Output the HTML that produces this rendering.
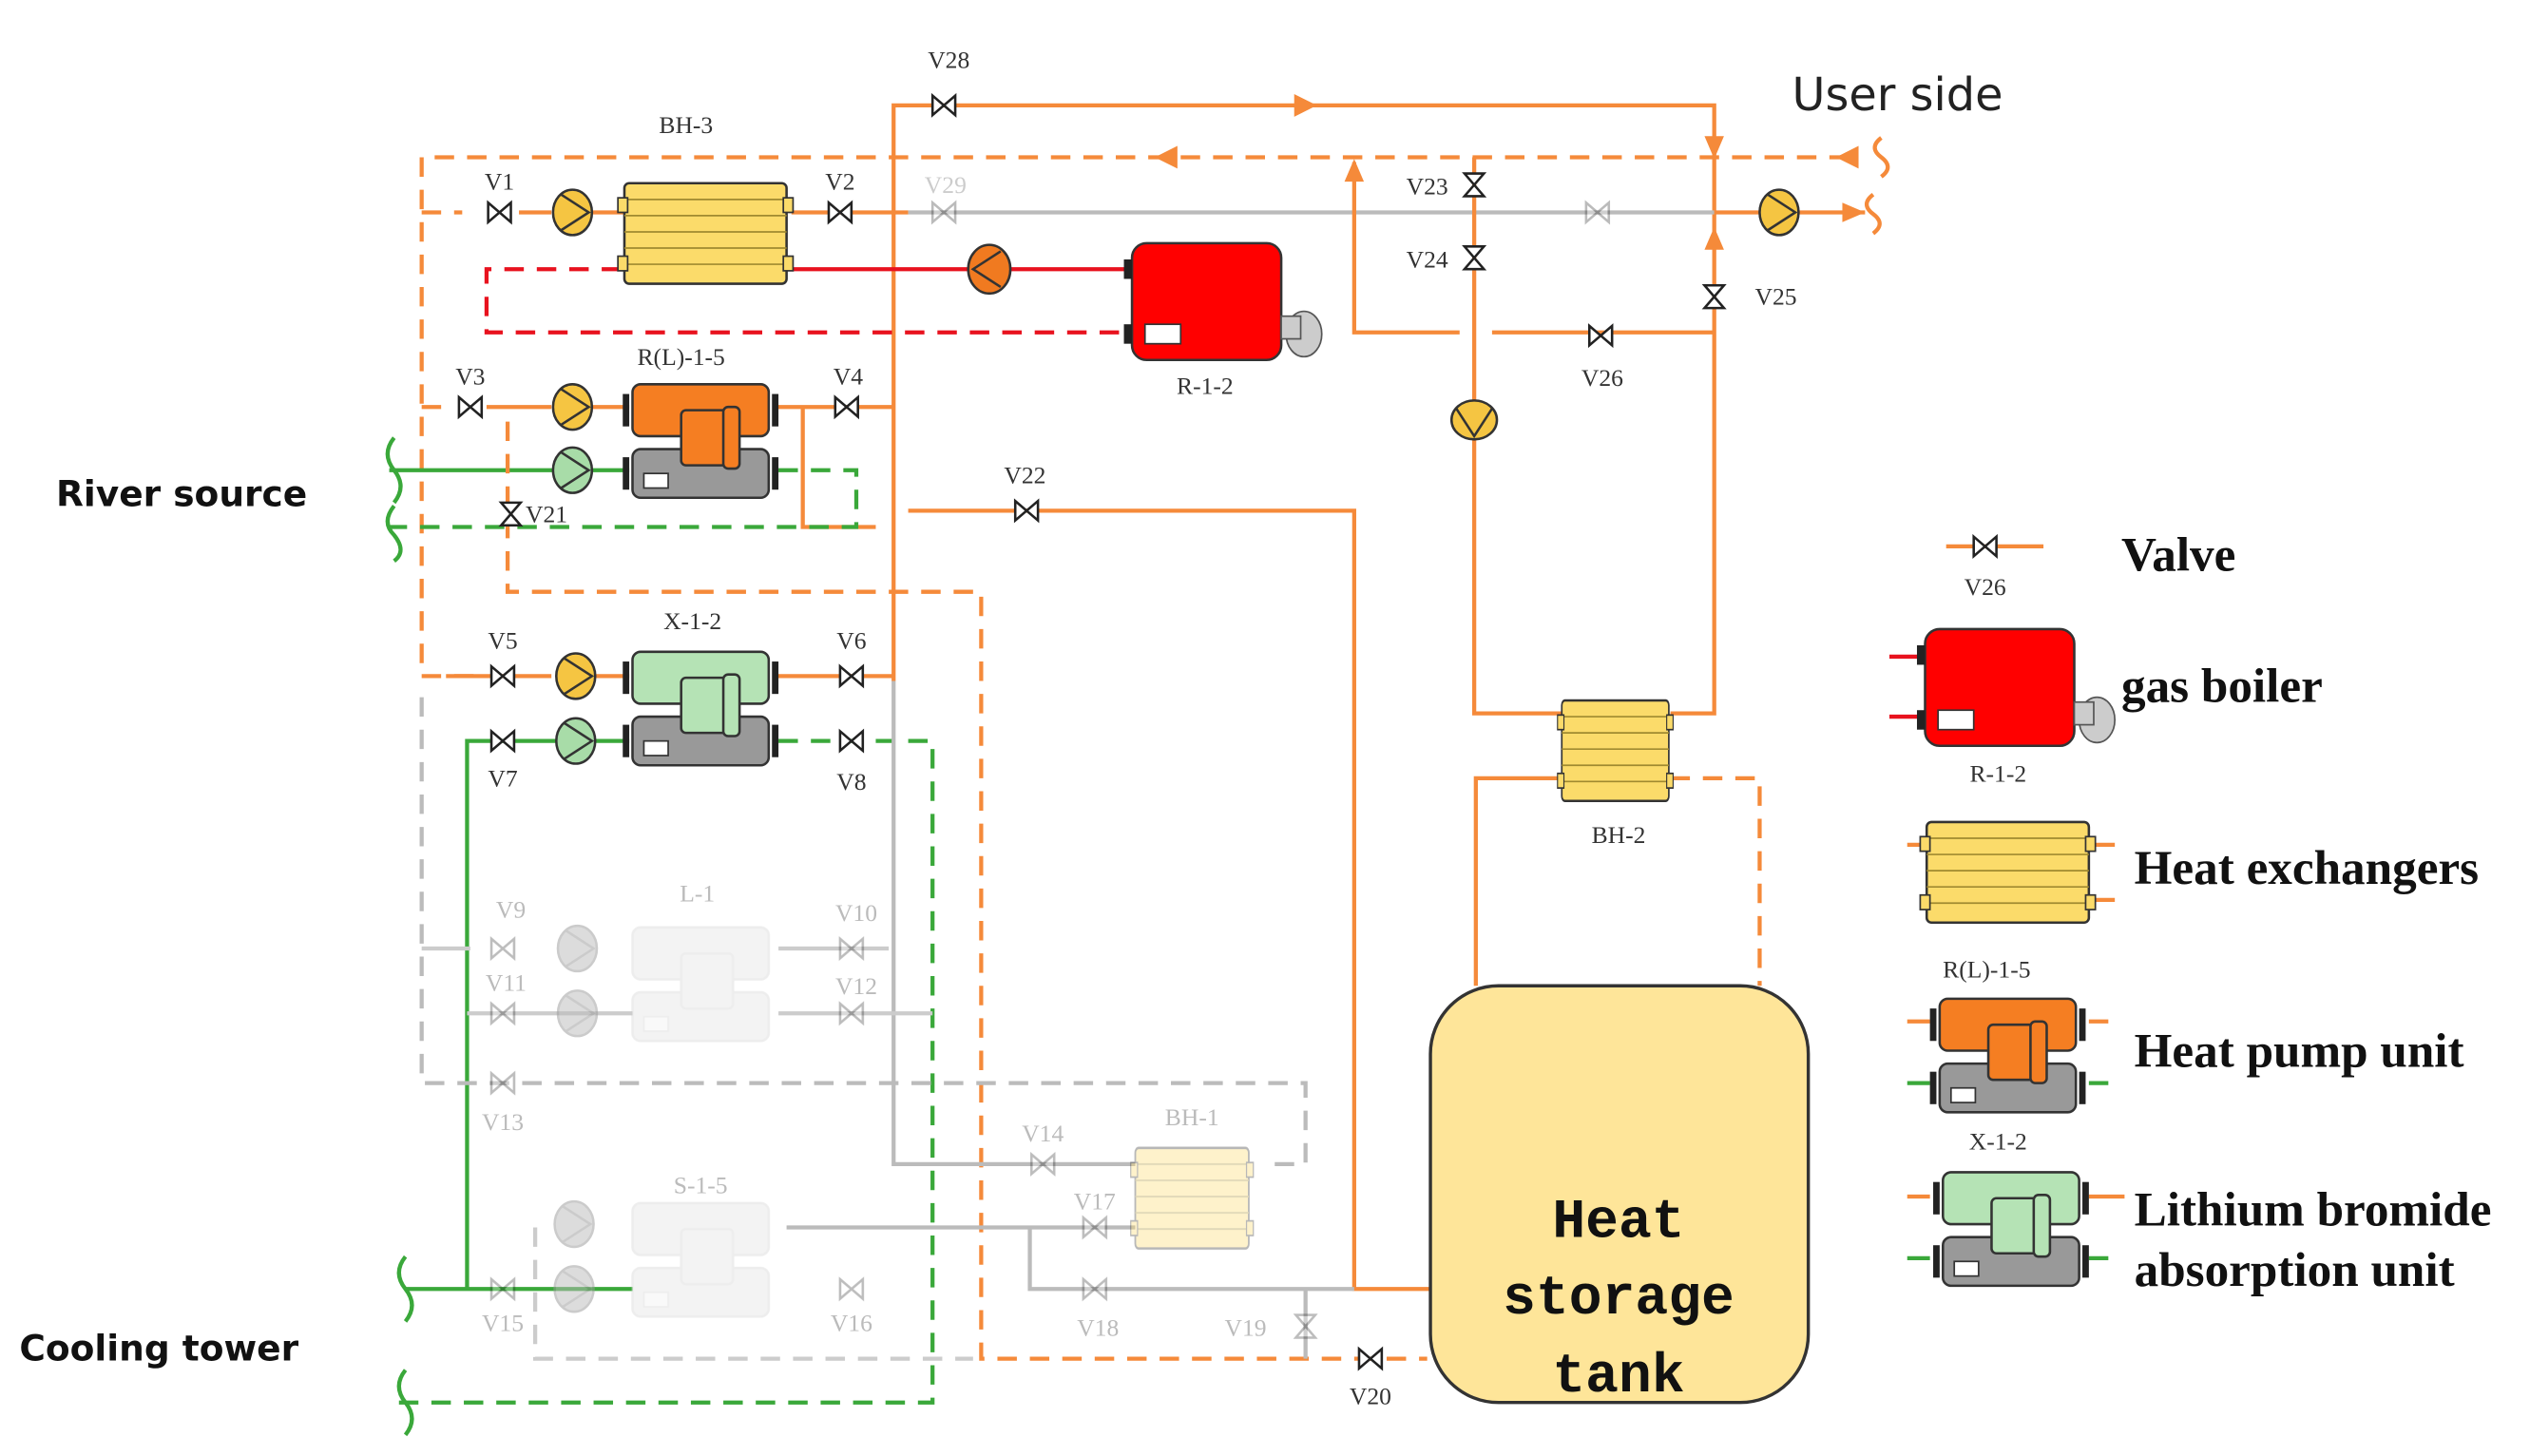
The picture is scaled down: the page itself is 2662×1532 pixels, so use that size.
<!DOCTYPE html>
<html><head><meta charset="utf-8"><style>
html,body{margin:0;padding:0;background:#fff}
svg{display:block}
</style></head><body>
<svg width="2662" height="1532" viewBox="0 0 1560 898" preserveAspectRatio="none" xmlns="http://www.w3.org/2000/svg" font-family="'Liberation Serif', serif">
<defs>
<g id="valve"><path d="M-7,-6 L7,6 L7,-6 L-7,6 Z" fill="#fff" stroke="#222" stroke-width="1.5"/></g>
<g id="pumpY"><ellipse cx="0" cy="0" rx="12" ry="14" fill="#f5c542" stroke="#333" stroke-width="1.5"/><path d="M-7,-11 L10,0 L-7,11" fill="none" stroke="#333" stroke-width="1.5"/></g>
<g id="pumpG"><ellipse cx="0" cy="0" rx="12" ry="14" fill="#a8dca8" stroke="#333" stroke-width="1.5"/><path d="M-7,-11 L10,0 L-7,11" fill="none" stroke="#333" stroke-width="1.5"/></g>
<g id="pumpGray"><ellipse cx="0" cy="0" rx="12" ry="14" fill="#bbb" stroke="#999" stroke-width="1.5"/><path d="M-7,-11 L10,0 L-7,11" fill="none" stroke="#999" stroke-width="1.5"/></g>
<g id="hx">
<rect x="0" y="0" width="100" height="62" rx="3" fill="#fbdb6a" stroke="#333" stroke-width="1.5"/>
<path d="M0,10H100M0,20H100M0,30H100M0,40H100M0,50H100" stroke="#a08a30" stroke-width="1"/>
<rect x="-4" y="9" width="6" height="9" fill="#fbdb6a" stroke="#333"/><rect x="98" y="9" width="6" height="9" fill="#fbdb6a" stroke="#333"/>
<rect x="-4" y="45" width="6" height="9" fill="#fbdb6a" stroke="#333"/><rect x="98" y="45" width="6" height="9" fill="#fbdb6a" stroke="#333"/>
</g>
<g id="unitO">
<rect x="0" y="0" width="84" height="32" rx="5" fill="#f57e22" stroke="#333" stroke-width="1.5"/>
<rect x="0" y="40" width="84" height="30" rx="5" fill="#999" stroke="#333" stroke-width="1.5"/>
<rect x="30" y="16" width="32" height="34" rx="3" fill="#f57e22" stroke="#333" stroke-width="1.5"/>
<rect x="56" y="14" width="10" height="38" rx="3" fill="#f57e22" stroke="#333" stroke-width="1.5"/>
<rect x="7" y="55" width="15" height="9" fill="#fff" stroke="#333"/>
<rect x="-6" y="6" width="4" height="20" fill="#222"/><rect x="86" y="6" width="4" height="20" fill="#222"/>
<rect x="-6" y="45" width="4" height="20" fill="#222"/><rect x="86" y="45" width="4" height="20" fill="#222"/>
</g>
<g id="unitG">
<rect x="0" y="0" width="84" height="32" rx="5" fill="#b5e3b5" stroke="#333" stroke-width="1.5"/>
<rect x="0" y="40" width="84" height="30" rx="5" fill="#999" stroke="#333" stroke-width="1.5"/>
<rect x="30" y="16" width="32" height="34" rx="3" fill="#b5e3b5" stroke="#333" stroke-width="1.5"/>
<rect x="56" y="14" width="10" height="38" rx="3" fill="#b5e3b5" stroke="#333" stroke-width="1.5"/>
<rect x="7" y="55" width="15" height="9" fill="#fff" stroke="#333"/>
<rect x="-6" y="6" width="4" height="20" fill="#222"/><rect x="86" y="6" width="4" height="20" fill="#222"/>
<rect x="-6" y="45" width="4" height="20" fill="#222"/><rect x="86" y="45" width="4" height="20" fill="#222"/>
</g>
<g id="unitF">
<rect x="0" y="0" width="84" height="32" rx="5" fill="#ddd" stroke="#ccc" stroke-width="1.5"/>
<rect x="0" y="40" width="84" height="30" rx="5" fill="#ddd" stroke="#ccc" stroke-width="1.5"/>
<rect x="30" y="16" width="32" height="34" rx="3" fill="#ddd" stroke="#ccc" stroke-width="1.5"/>
<rect x="7" y="55" width="15" height="9" fill="#eee" stroke="#ccc"/>
</g>
<g id="boiler">
<rect x="0" y="0" width="92" height="72" rx="9" fill="#f00" stroke="#333" stroke-width="1.5"/>
<rect x="8" y="50" width="22" height="12" fill="#fff" stroke="#333"/>
<ellipse cx="106" cy="56" rx="11" ry="14" fill="#ccc" stroke="#555"/>
<rect x="92" y="45" width="12" height="14" fill="#ccc" stroke="#555"/>
<rect x="-5" y="10" width="5" height="12" fill="#222"/><rect x="-5" y="50" width="5" height="12" fill="#222"/>
</g>
</defs>

<g fill="none" stroke-width="2.5">
<!-- top solid orange -->
<path d="M551,420 V65 H1057 V440 H1030" stroke="#f58a3a"/>
<!-- dashed orange top -->
<path d="M1140,97 H260 V417 H300" stroke="#f58a3a" stroke-dasharray="12,8"/>
<path d="M260,131 H285 M260,251 H278" stroke="#f58a3a" stroke-dasharray="12,8"/>
<!-- row 131 -->
<path d="M320,131 H340 M365,131 H385 M488,131 H560" stroke="#f58a3a"/>
<path d="M560,131 H1057" stroke="#bbb"/>
<path d="M1057,131 H1150" stroke="#f58a3a"/>
<!-- red -->
<path d="M488,166 H697" stroke="#e8121e"/>
<path d="M383,166 H300 V205 H697" stroke="#e8121e" stroke-dasharray="12,8"/>
<!-- right loop -->
<path d="M835,100 V205 H900 M920,205 H1057" stroke="#f58a3a"/>
<path d="M909,97 V440 H963" stroke="#f58a3a"/>
<path d="M963,480 H910 V608" stroke="#f58a3a"/>
<path d="M1030,480 H1085 V608" stroke="#f58a3a" stroke-dasharray="12,8"/>
<!-- row 251 -->
<path d="M300,251 H340 M365,251 H388 M478,251 H551" stroke="#f58a3a"/>
<path d="M495,251 V325 H540 M560,315 H835 V795 H882" stroke="#f58a3a"/>
<!-- green river -->
<path d="M240,290 H388" stroke="#3aa83a"/>
<path d="M480,290 H528 V325 H240" stroke="#3aa83a" stroke-dasharray="12,8"/>
<!-- orange dashed from V21 -->
<path d="M313,260 V365 H605 V838 H880" stroke="#f58a3a" stroke-dasharray="12,8"/>
<!-- X-1-2 rows -->
<path d="M275,417 H340 M365,417 H388 M478,417 H551" stroke="#f58a3a"/>
<path d="M288,795 V457 H388" stroke="#3aa83a"/>
<path d="M480,457 H575 V865 H245" stroke="#3aa83a" stroke-dasharray="12,8"/>
<!-- grey lines -->
<path d="M551,420 V718 H700" stroke="#bbb"/>
<path d="M260,430 V668 H805 V718 H780" stroke="#bbb" stroke-dasharray="12,8"/>
<path d="M260,585 H290 M288,625 H390 M480,585 H548 M480,625 H575" stroke="#ccc"/>
<path d="M485,757 H700 M635,757 V795 H835 M805,795 V838" stroke="#bbb"/>
<path d="M330,757 V838 H600" stroke="#ccc" stroke-dasharray="12,8"/>
<path d="M250,795 H390" stroke="#3aa83a"/>
<!-- squiggles -->
<path d="M1160,85 q-8,6 0,12 q8,6 0,12" stroke="#f58a3a"/>
<path d="M1155,120 q-8,6 0,12 q8,6 0,12" stroke="#f58a3a"/>
<path d="M243,270 q-8,10 0,20 q8,10 0,20" stroke="#3aa83a"/>
<path d="M243,312 q-8,10 0,18 q8,10 0,16" stroke="#3aa83a"/>
<path d="M250,775 q-8,10 0,20 q8,10 0,20" stroke="#3aa83a"/>
<path d="M250,845 q-8,10 0,20 q8,10 0,20" stroke="#3aa83a"/>
<!-- legend lines -->
<path d="M1200,337 H1260" stroke="#f58a3a"/>
</g>
<!-- arrows -->
<g fill="#f58a3a">
<path d="M812,65 l-14,-7 v14z"/><path d="M712,97 l14,-7 v14z"/><path d="M1132,97 l14,-7 v14z"/>
<path d="M835,98 l-6,14 h12z"/><path d="M1057,140 l-6,14 h12z"/><path d="M1057,98 l-6,-14 h12z" transform="translate(0,0)"/>
<path d="M1150,131 l-14,-6 v12z"/>
</g>

<!-- components -->
<use href="#hx" x="385" y="113"/>
<use href="#boiler" x="698" y="150"/>
<use href="#unitO" x="390" y="237"/>
<use href="#unitG" x="390" y="402"/>
<g opacity="0.35"><use href="#unitF" x="390" y="572"/><use href="#unitF" x="390" y="742"/>
<g transform="translate(700,708) scale(0.7,1)"><use href="#hx"/></g></g>
<use href="#hx" x="963" y="432" transform="translate(963,432) scale(0.66,1) translate(-963,-432)"/>
<use href="#pumpY" x="353" y="131"/>
<use href="#pumpY" x="353" y="251"/>
<use href="#pumpG" x="353" y="290"/>
<use href="#pumpY" x="355" y="417"/>
<use href="#pumpG" x="355" y="457"/>
<use href="#pumpGray" x="356" y="585" opacity="0.5"/>
<use href="#pumpGray" x="356" y="625" opacity="0.5"/>
<use href="#pumpGray" x="354" y="755" opacity="0.5"/>
<use href="#pumpGray" x="354" y="795" opacity="0.5"/>
<use href="#pumpY" x="1097" y="131"/>
<g transform="translate(610,166) rotate(180)"><ellipse rx="13" ry="15" fill="#f07a20" stroke="#333" stroke-width="1.5"/><path d="M-7,-11 L10,0 L-7,11" fill="none" stroke="#333" stroke-width="1.5"/></g>
<g transform="translate(909,259) rotate(90)"><use href="#pumpY"/></g>

<!-- valves -->
<use href="#valve" x="582" y="65"/>
<use href="#valve" x="308" y="131"/><use href="#valve" x="518" y="131"/>
<use href="#valve" x="582" y="131" opacity="0.3"/><use href="#valve" x="985" y="131" opacity="0.3"/>
<use href="#valve" x="290" y="251"/><use href="#valve" x="522" y="251"/>
<use href="#valve" x="633" y="315"/><use href="#valve" x="987" y="207"/>
<use href="#valve" x="310" y="417"/><use href="#valve" x="525" y="417"/>
<use href="#valve" x="310" y="457"/><use href="#valve" x="525" y="457"/>
<g opacity="0.3"><use href="#valve" x="310" y="585"/><use href="#valve" x="525" y="585"/><use href="#valve" x="310" y="625"/><use href="#valve" x="525" y="625"/>
<use href="#valve" x="310" y="668"/><use href="#valve" x="643" y="718"/><use href="#valve" x="675" y="757"/><use href="#valve" x="675" y="795"/>
<use href="#valve" x="310" y="795"/><use href="#valve" x="525" y="795"/>
<g transform="translate(805,818) rotate(90)"><use href="#valve"/></g></g>
<use href="#valve" x="845" y="838"/>
<use href="#valve" x="1224" y="337"/>
<g transform="translate(909,114) rotate(90)"><use href="#valve"/></g>
<g transform="translate(909,159) rotate(90)"><use href="#valve"/></g>
<g transform="translate(1057,183) rotate(90)"><use href="#valve"/></g>
<g transform="translate(315,317) rotate(90)"><use href="#valve"/></g>

<!-- tank -->
<rect x="882" y="608" width="233" height="257" rx="42" fill="#fee599" stroke="#333" stroke-width="2"/>
<g font-family="'Liberation Mono', monospace" font-weight="bold" font-size="34" fill="#111" text-anchor="middle">
<text x="998" y="763">Heat</text><text x="998" y="810">storage</text><text x="998" y="858">tank</text></g>

<!-- labels -->
<g font-size="15" fill="#333" text-anchor="middle">
<text x="585" y="42">V28</text><text x="423" y="82">BH-3</text>
<text x="308" y="117">V1</text><text x="518" y="117">V2</text><text x="583" y="119" fill="#ccc">V29</text>
<text x="880" y="120">V23</text><text x="880" y="165">V24</text><text x="1095" y="188">V25</text><text x="988" y="238">V26</text>
<text x="743" y="243">R-1-2</text>
<text x="420" y="225">R(L)-1-5</text><text x="290" y="237">V3</text><text x="523" y="237">V4</text>
<text x="337" y="322">V21</text><text x="632" y="298">V22</text>
<text x="427" y="388">X-1-2</text><text x="310" y="400">V5</text><text x="525" y="400">V6</text>
<text x="310" y="485">V7</text><text x="525" y="487">V8</text>
<text x="998" y="520">BH-2</text>
<g fill="#bbb"><text x="315" y="566">V9</text><text x="430" y="556">L-1</text><text x="528" y="568">V10</text><text x="312" y="611">V11</text><text x="528" y="613">V12</text>
<text x="310" y="697">V13</text><text x="643" y="704">V14</text><text x="735" y="694">BH-1</text><text x="675" y="746">V17</text>
<text x="432" y="736">S-1-5</text><text x="310" y="821">V15</text><text x="525" y="821">V16</text><text x="677" y="824">V18</text><text x="768" y="824">V19</text></g>
<text x="845" y="866">V20</text>
<text x="1224" y="367">V26</text><text x="1232" y="482">R-1-2</text><text x="1225" y="603">R(L)-1-5</text><text x="1232" y="709">X-1-2</text>
</g>
<text x="1170" y="68" font-family="'DejaVu Sans', sans-serif" font-size="28" fill="#222" text-anchor="middle">User side</text>
<g font-family="'DejaVu Sans', sans-serif" font-weight="bold" font-size="22" fill="#111" text-anchor="middle">
<text x="112" y="312">River source</text><text x="98" y="839">Cooling tower</text></g>
<g font-weight="bold" font-size="30" fill="#111">
<text x="1308" y="352">Valve</text><text x="1308" y="433">gas boiler</text><text x="1316" y="545">Heat exchangers</text>
<text x="1316" y="658">Heat pump unit</text><text x="1316" y="756">Lithium bromide</text><text x="1316" y="793">absorption unit</text></g>

<!-- legend icons -->
<path d="M1165,405 H1185 M1165,442 H1185" stroke="#e8121e" stroke-width="2.5"/>
<use href="#boiler" x="1187" y="388"/>
<path d="M1176,521 H1186 M1290,521 H1304 M1290,555 H1304" stroke="#f58a3a" stroke-width="2.5"/>
<use href="#hx" x="1188" y="507"/>
<path d="M1176,630 H1190 M1288,630 H1300" stroke="#f58a3a" stroke-width="2.5"/>
<path d="M1176,668 H1190 M1288,668 H1300" stroke="#3aa83a" stroke-width="2.5"/>
<use href="#unitO" x="1196" y="616"/>
<path d="M1176,738 H1190 M1288,738 H1310" stroke="#f58a3a" stroke-width="2.5"/>
<path d="M1176,776 H1190 M1288,776 H1300" stroke="#3aa83a" stroke-width="2.5"/>
<use href="#unitG" x="1198" y="723"/>
</svg>
</body></html>
